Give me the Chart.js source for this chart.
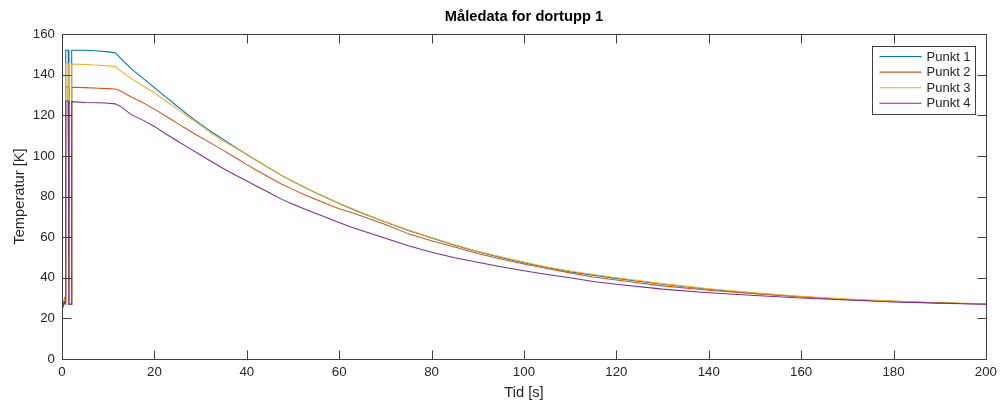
<!DOCTYPE html>
<html lang="no">
<head>
<meta charset="utf-8">
<title>Måledata for dortupp 1</title>
<script src="https://cdn.jsdelivr.net/npm/chart.js@4/dist/chart.umd.min.js"></script>
<style>
  html, body { margin: 0; padding: 0; background: #ffffff; }
  canvas { display: block; }
</style>
</head>
<body>
<canvas id="plot" width="1002" height="405"></canvas>
<script>
// Tid [s] for alle målepunkter
const tid = [0, 0.3, 0.55, 0.75, 0.8, 1.35, 1.5, 1.95, 2.1, 5, 8, 10, 11.5, 12.5, 15, 17.5, 20, 22.5, 25, 27.5,
  30, 32.5, 35, 37.5, 40, 42.5, 45, 47.5, 50, 52.5, 55, 57.5, 60, 62.5, 65, 70, 75, 80, 85, 90, 95, 100,
  105, 110, 115, 120, 130, 140, 150, 160, 170, 180, 190, 200];

// Temperatur [K] per punkt
const punkt1 = [28, 27, 29, 28, 152, 152, 27, 27, 152, 152, 151.6, 151.2, 150.8, 148.5, 142.8, 138.3, 133.6, 128.9, 124.3, 119.8,
  115.6, 111.6, 108.0, 104.3, 100.7, 97.2, 93.8, 90.4, 87.4, 84.5, 81.7, 79.1, 76.6, 74.1, 71.8, 67.4, 63.3, 59.6, 56.0, 52.8, 50.0, 47.4,
  45.0, 43.0, 41.3, 39.7, 36.8, 34.3, 32.3, 30.6, 29.3, 28.3, 27.6, 27.1];
const punkt2 = [27, 27, 30, 29, 134, 134, 27, 27, 133.8, 133.6, 133.3, 133.1, 132.9, 132.2, 129.0, 126.2, 123.0, 119.5, 116.0, 112.5,
  109.2, 105.9, 102.6, 99.2, 95.7, 92.4, 89.2, 86.2, 83.5, 80.9, 78.5, 76.2, 74.0, 72.2, 70.3, 66.2, 61.6, 58.2, 55.1, 51.9, 49.2, 46.8,
  44.5, 42.4, 40.4, 38.9, 36.0, 33.8, 32.1, 30.6, 29.3, 28.4, 27.6, 27.1];
const punkt3 = [28, 27, 29, 28, 145.5, 145.5, 27, 27, 145.2, 145, 144.6, 144.3, 144.0, 142.2, 138.0, 134.5, 131.0, 127.0, 123.0, 119.0,
  115.0, 110.8, 107.2, 104.0, 100.6, 97.2, 93.8, 90.5, 87.5, 84.6, 81.8, 79.2, 76.7, 74.3, 72.0, 67.6, 63.5, 59.8, 56.3, 53.1, 50.3, 47.7,
  45.3, 43.3, 41.6, 40.0, 37.1, 34.6, 32.6, 30.9, 29.5, 28.5, 27.7, 27.2];
const punkt4 = [30, 26, 28, 27, 127, 127, 27, 27, 126.7, 126.3, 126.2, 125.9, 125.6, 124.6, 120.3, 117.6, 114.5, 110.8, 107.3, 103.8,
  100.4, 97.0, 93.7, 90.6, 87.6, 84.7, 81.7, 78.7, 76.2, 73.9, 71.6, 69.4, 67.2, 65.0, 63.1, 59.4, 55.8, 52.6, 49.8, 47.6, 45.4, 43.4,
  41.6, 40.0, 38.2, 36.8, 34.4, 32.6, 31.3, 30.0, 29.0, 28.1, 27.5, 27.0];

const seriesNames = ['Punkt 1', 'Punkt 2', 'Punkt 3', 'Punkt 4'];
const seriesValues = [punkt1, punkt2, punkt3, punkt4];
const seriesColors = ['#0072BD', '#D95319', '#EDB120', '#7E2F8E'];

const xTicks = [0, 20, 40, 60, 80, 100, 120, 140, 160, 180, 200];
const yTicks = [0, 20, 40, 60, 80, 100, 120, 140, 160];

const FONT = '"Liberation Sans", Arial, Helvetica, sans-serif';
const AXIS_COLOR = '#404040';
const TEXT_COLOR = '#262626';

const datasets = seriesValues.map((vals, i) => ({
  label: seriesNames[i],
  data: tid.map((t, k) => ({ x: t, y: vals[k] })),
  borderColor: seriesColors[i],
  backgroundColor: seriesColors[i],
  borderWidth: 1.05,
  pointRadius: 0,
  tension: 0,
  fill: false,
  // later series are painted on top
  order: seriesValues.length - i
}));

// Box around the axes with inward tick marks on all four sides
const boxAxes = {
  id: 'boxAxes',
  afterDatasetsDraw(chart) {
    const { ctx, chartArea: a, scales } = chart;
    const L = Math.round(a.left) + 0.5, R = Math.round(a.right) + 0.5;
    const T = Math.round(a.top) + 0.5, B = Math.round(a.bottom) + 0.5;
    const len = 9;
    ctx.save();
    ctx.strokeStyle = AXIS_COLOR;
    ctx.lineWidth = 1;
    ctx.beginPath();
    ctx.rect(L, T, R - L, B - T);
    xTicks.forEach(v => {
      const px = Math.round(scales.x.getPixelForValue(v)) + 0.5;
      ctx.moveTo(px, B); ctx.lineTo(px, B - len);
      ctx.moveTo(px, T); ctx.lineTo(px, T + len);
    });
    yTicks.forEach(v => {
      const py = Math.round(scales.y.getPixelForValue(v)) + 0.5;
      ctx.moveTo(L, py); ctx.lineTo(L + len, py);
      ctx.moveTo(R, py); ctx.lineTo(R - len, py);
    });
    ctx.stroke();
    ctx.restore();
  }
};

// Legend box in the upper right corner of the axes
const boxLegend = {
  id: 'boxLegend',
  afterDraw(chart) {
    const { ctx, chartArea: a } = chart;
    const w = 103, h = 68;
    const x0 = Math.round(a.right) - 114 + 0.5;
    const y0 = Math.round(a.top) + 12 + 0.5;
    ctx.save();
    ctx.fillStyle = '#ffffff';
    ctx.fillRect(x0, y0, w, h);
    ctx.strokeStyle = AXIS_COLOR;
    ctx.lineWidth = 1;
    ctx.strokeRect(x0, y0, w, h);
    ctx.font = '13px ' + FONT;
    ctx.textBaseline = 'middle';
    ctx.textAlign = 'left';
    seriesNames.forEach((name, i) => {
      const y = y0 + 10 + i * 15.6;
      ctx.strokeStyle = seriesColors[i];
      ctx.lineWidth = 1.05;
      ctx.beginPath();
      ctx.moveTo(x0 + 7, y);
      ctx.lineTo(x0 + 49, y);
      ctx.stroke();
      ctx.fillStyle = TEXT_COLOR;
      ctx.fillText(name, x0 + 54, y + 0.5);
    });
    ctx.restore();
  }
};

new Chart(document.getElementById('plot'), {
  type: 'line',
  data: { datasets },
  plugins: [boxAxes, boxLegend],
  options: {
    responsive: false,
    animation: false,
    events: [],
    layout: { padding: { left: 0, right: 16, top: 0, bottom: 0 } },
    plugins: {
      legend: { display: false },
      tooltip: { enabled: false },
      title: {
        display: true,
        text: 'Måledata for dortupp 1',
        fullSize: false,
        color: '#000000',
        font: { family: FONT, size: 14.7, weight: 'bold', lineHeight: 1.2 },
        padding: { top: 8.5, bottom: 7.86 }
      }
    },
    scales: {
      x: {
        type: 'linear',
        min: 0, max: 200,
        afterFit(scale) { scale.height = 46; },
        afterBuildTicks(scale) { scale.ticks = xTicks.map(v => ({ value: v })); },
        grid: { display: false, drawTicks: false },
        border: { display: false },
        ticks: {
          color: TEXT_COLOR,
          padding: 5,
          maxRotation: 0,
          font: { family: FONT, size: 13.3 }
        },
        title: {
          display: true,
          text: 'Tid [s]',
          color: TEXT_COLOR,
          font: { family: FONT, size: 14.7, lineHeight: 1.2 },
          padding: { top: 0, bottom: 3.5 }
        }
      },
      y: {
        type: 'linear',
        min: 0, max: 160,
        afterFit(scale) { scale.width = 62; },
        afterBuildTicks(scale) { scale.ticks = yTicks.map(v => ({ value: v })); },
        grid: { display: false, drawTicks: false },
        border: { display: false },
        ticks: {
          color: TEXT_COLOR,
          padding: 7,
          font: { family: FONT, size: 13.3 }
        },
        title: {
          display: true,
          text: 'Temperatur [K]',
          color: TEXT_COLOR,
          font: { family: FONT, size: 14.7, lineHeight: 1.2 },
          padding: { top: 11, bottom: 0 }
        }
      }
    }
  }
});
</script>
</body>
</html>
